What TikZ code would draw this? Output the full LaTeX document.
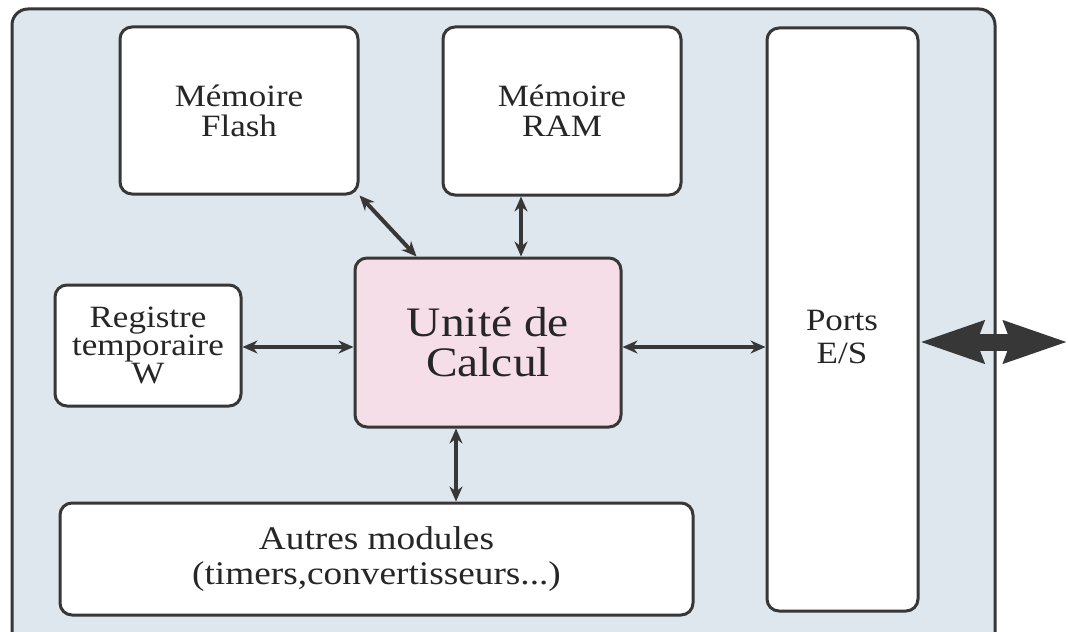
\documentclass[tikz,border=0pt]{standalone}
\usepackage{fontspec}
\setmainfont{Liberation Serif}[FakeStretch=1.13]
\usetikzlibrary{arrows.meta}
\definecolor{chipbg}{RGB}{222,230,238}
\definecolor{unitbg}{RGB}{246,222,232}
\definecolor{ink}{RGB}{55,55,55}
\definecolor{textink}{RGB}{38,38,38}

\begin{document}
\begin{tikzpicture}[x=0.5pt, y=-0.5pt,
    box/.style = {draw=ink, line width=1.5pt, rounded corners=6pt, fill=white, align=center, text=textink, inner sep=0pt},
    txt/.style = {font=\fontsize{15.5}{15}\selectfont},
    link/.style = {draw=ink, line width=2pt, {Stealth[length=7.5pt,width=6.5pt]}-{Stealth[length=7.5pt,width=6.5pt]}},
    bigio/.style = {draw=ink, line width=8.5pt, {Stealth[length=31.5pt,width=20pt,inset=3pt]}-{Stealth[length=31.5pt,width=20pt,inset=3pt]}}]
                  \useasboundingbox (0,0) rectangle (1068,631);
                  \clip (0,0) rectangle (1068,631);
                  \fill[white] (0,0) rectangle (1068,631);
                  \draw[ink, line width=1.5pt, fill=chipbg, rounded corners=8pt] (12,9) rectangle (995,660);
                  \node[box, txt, minimum width=119pt, minimum height=83.5pt] (flash) at (239,110.5) {Mémoire\\Flash};
                  \node[box, txt, minimum width=119pt, minimum height=84pt] (ram) at (562,111) {Mémoire\\RAM};
                  \node[box, minimum width=75.5pt, minimum height=291.5pt] (ports) at (842.5,319.5) {};
                  \node[txt, align=center, text=textink, font=\fontsize{15.5}{16.5}\selectfont] (portstxt) at (842,337) {Ports\\E/S};
                  \node[box, font=\fontsize{15.5}{14}\selectfont, minimum width=93pt, minimum height=60.5pt] (reg) at (148,345.5) {Registre\\temporaire\\W};
                  \node[box, fill=unitbg, font=\fontsize{21}{20}\selectfont, minimum width=133pt, minimum height=84.5pt] (unit) at (488,342.5) {Unité de\\Calcul};
                  \node[box, font=\fontsize{16.5}{17.5}\selectfont, minimum width=316.5pt, minimum height=56pt] (autres) at (376.5,559) {Autres modules\\(timers,convertisseurs...)};
                  \coordinate (midrow) at (0,347);
                  \coordinate (ramlink) at (521,0);
                  \coordinate (autlink) at (456,0);
                  \coordinate (ioend) at (1068,342);
                  \draw[link] (flash.south east) -- ([xshift=31.5pt]unit.north west);
                  \draw[link] (ramlink |- ram.south) -- (ramlink |- unit.north);
                  \draw[link] (midrow -| reg.east) -- (midrow -| unit.west);
                  \draw[link] (midrow -| unit.east) -- (midrow -| ports.west);
                  \draw[link] (autlink |- unit.south) -- (autlink |- autres.north);
                  \draw[bigio] (ioend -| ports.east) -- (ioend);
              \end{tikzpicture}
\end{document}
